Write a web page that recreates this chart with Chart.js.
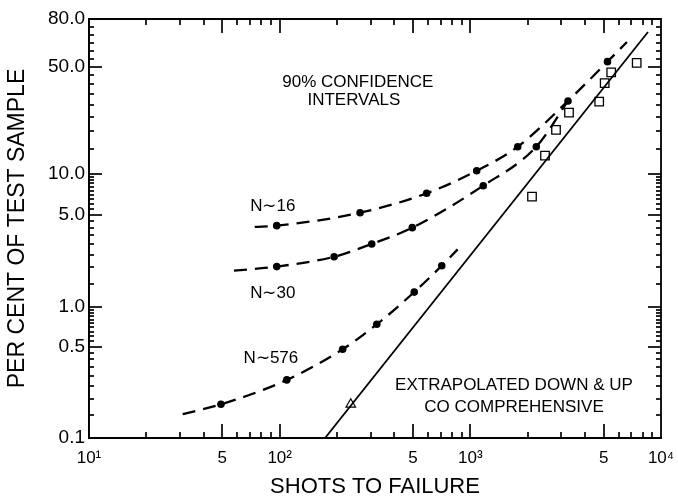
<!DOCTYPE html>
<html lang="en">
<head>
<meta charset="UTF-8">
<title>Shots to failure</title>
<script src="https://cdn.jsdelivr.net/npm/chart.js@4"></script>
<style>
  html, body { margin: 0; padding: 0; background: #fff; }
  #wrap { width: 678px; height: 498px; }
</style>
</head>
<body>
<div id="wrap"><canvas id="chart"></canvas></div>
<script>
// values: shots to failure (x) and per cent of sample failed (y)
const n16Shots = [74, 96.5, 264, 590, 1080, 1772, 3253, 5241, 6629];
const n16Pct = [4.04, 4.13, 5.16, 7.19, 10.5, 15.6, 31.6, 53.2, 65.8];
const n30Shots = [57.6, 96.5, 193, 304, 496, 1169, 2218, 3253];
const n30Pct = [1.89, 2.03, 2.41, 3.01, 3.99, 8.18, 15.6, 31.6];
const n576Shots = [31, 49.2, 109, 214, 323, 508, 708, 858];
const n576Pct = [0.152, 0.181, 0.278, 0.477, 0.739, 1.30, 2.06, 2.74];
const fitShots = [173, 8546];
const fitPct = [0.1, 72.2];
const testShots = [2106, 2464, 2814, 3292, 4741, 5066, 5480, 7456];
const testPct = [6.79, 13.5, 20.4, 26.6, 31.3, 40.5, 46.6, 52.4];
const extraShots = [236];
const extraPct = [0.181];

// axis range and ticks
const xMin = 10, xMax = 10000;
const yMin = 0.1, yMax = 80;
const xLabelTicks = [10, 50, 100, 500, 1000, 5000, 10000];
const xLabelText = ['10¹', '5', '10²', '5', '10³', '5', '10⁴'];
const xLongTicks = [100, 1000, 50, 500, 5000];
const xShortTicks = [20, 30, 40, 60, 70, 80, 90, 200, 300, 400, 600, 700, 800, 900,
    2000, 3000, 4000, 6000, 7000, 8000, 9000];
const yLabelTicks = [0.1, 0.5, 1, 5, 10, 50, 80];
const yLabelText = ['0.1', '0.5', '1.0', '5.0', '10.0', '50.0', '80.0'];
const yLongTicks = [0.5, 1, 5, 10, 50];
const yShortTicks = [0.15, 0.2, 0.25, 0.3, 0.35, 0.4, 0.45,
    0.55, 0.6, 0.65, 0.7, 0.75, 0.8, 0.85, 0.9, 0.95,
    1.5, 2, 2.5, 3, 3.5, 4, 4.5,
    5.5, 6, 6.5, 7, 7.5, 8, 8.5, 9, 9.5,
    15, 20, 25, 30, 35, 40, 45, 55, 60, 65, 70, 75];

const notes = [
    { text: '90% CONFIDENCE', x: 257, y: 41 },
    { text: 'INTERVALS', x: 245, y: 32 },
    { text: 'N∼16', x: 92, y: 5.8 },
    { text: 'N∼30', x: 92, y: 1.28 },
    { text: 'N∼576', x: 90, y: 0.406 },
    { text: 'EXTRAPOLATED DOWN & UP', x: 1694, y: 0.254 },
    { text: 'CO COMPREHENSIVE', x: 1694, y: 0.173 },
];

const FONT = '"Liberation Sans", Arial, Helvetica, sans-serif';
Chart.defaults.font.family = FONT;
Chart.defaults.color = '#000';

// Weibull probability paper: ln(-ln(1 - p))
const weib = p => Math.log(-Math.log(1 - p / 100));

class WeibullScale extends Chart.Scale {
    static id = 'weibull';
    static defaults = {};

    determineDataLimits() {
        this.min = this.options.min;
        this.max = this.options.max;
    }
    buildTicks() {
        return yLabelTicks.map(v => ({ value: v }));
    }
    configure() {
        super.configure();
        this._startValue = weib(this.min);
        this._valueRange = weib(this.max) - weib(this.min);
    }
    getPixelForValue(value) {
        return this.getPixelForDecimal((weib(value) - this._startValue) / this._valueRange);
    }
    getValueForPixel(pixel) {
        const f = this._startValue + this.getDecimalForPixel(pixel) * this._valueRange;
        return 100 * (1 - Math.exp(-Math.exp(f)));
    }
    getLabelForValue(value) {
        return String(value);
    }
}
Chart.register(WeibullScale);

const zip = (xs, ys) => xs.map((x, i) => ({ x, y: ys[i] }));
const noEnds = n => ctx => (ctx.dataIndex === 0 || ctx.dataIndex === n - 1) ? 0 : 3.8;

function dashed(xs, ys) {
    return {
        data: zip(xs, ys),
        showLine: true,
        borderColor: '#000',
        borderWidth: 2.3,
        borderDash: [13, 8],
        cubicInterpolationMode: 'monotone',
        pointRadius: noEnds(xs.length),
        pointBackgroundColor: '#000',
        pointBorderWidth: 0,
    };
}

// inward ticks on all four sides
function drawTicks(chart) {
    const ctx = chart.ctx;
    const x = chart.scales.x;
    const y = chart.scales.y;
    const L = Math.round(x.left), R = Math.round(x.right);
    const T = Math.round(y.top), B = Math.round(y.bottom);
    ctx.save();
    ctx.fillStyle = '#000';
    const xt = (v, len) => {
        const p = Math.round(x.getPixelForValue(v));
        ctx.fillRect(p - 0.6, B - len, 1.2, len);
        ctx.fillRect(p - 0.6, T, 1.2, len);
    };
    const yt = (v, len) => {
        const p = Math.round(y.getPixelForValue(v));
        ctx.fillRect(L, p - 0.6, len, 1.2);
        ctx.fillRect(R - len, p - 0.6, len, 1.2);
    };
    xLongTicks.forEach(v => xt(v, 14));
    xShortTicks.forEach(v => xt(v, 6));
    yLongTicks.forEach(v => yt(v, 13));
    yShortTicks.forEach(v => yt(v, 5));
    ctx.restore();
}

const decor = {
    id: 'decor',
    beforeDatasetsDraw(chart) {
        drawTicks(chart);
    },
    afterDraw(chart) {
        drawTicks(chart);
        const ctx = chart.ctx;
        const x = chart.scales.x;
        const y = chart.scales.y;
        ctx.save();
        ctx.fillStyle = '#000';
        ctx.font = '17px ' + FONT;
        ctx.textAlign = 'center';
        ctx.textBaseline = 'middle';
        notes.forEach(n => ctx.fillText(n.text, x.getPixelForValue(n.x), y.getPixelForValue(n.y)));
        ctx.restore();
    }
};

new Chart(document.getElementById('chart'), {
    type: 'scatter',
    data: {
        datasets: [
            // plot box along the axis limits
            {
                data: zip([xMin, xMax, xMax, xMin, xMin], [yMin, yMin, yMax, yMax, yMin]),
                showLine: true,
                borderColor: '#000',
                borderWidth: 1.8,
                pointRadius: 0,
                clip: false,
            },
            dashed(n16Shots, n16Pct),
            dashed(n30Shots, n30Pct),
            dashed(n576Shots, n576Pct),
            {
                data: zip(fitShots, fitPct),
                showLine: true,
                borderColor: '#000',
                borderWidth: 1.8,
                pointRadius: 0,
            },
            {
                data: zip(testShots, testPct),
                pointStyle: 'rect',
                pointRadius: 6,
                pointBorderWidth: 1.3,
                pointBorderColor: '#000',
                pointBackgroundColor: '#fff',
            },
            {
                data: zip(extraShots, extraPct),
                pointStyle: 'triangle',
                pointRadius: 5.5,
                pointBorderWidth: 1.2,
                pointBorderColor: '#000',
                pointBackgroundColor: '#fff',
            },
        ]
    },
    options: {
        responsive: true,
        maintainAspectRatio: false,
        animation: false,
        events: [],
        layout: { padding: { top: 19, right: 17, left: 0, bottom: 0 } },
        plugins: { legend: { display: false }, tooltip: { enabled: false } },
        scales: {
            x: {
                type: 'logarithmic',
                min: xMin,
                max: xMax,
                grid: { display: false, drawTicks: false, tickLength: 0 },
                border: { display: true, color: '#000', width: 1.6 },
                afterBuildTicks: s => { s.ticks = xLabelTicks.map(v => ({ value: v })); },
                afterFit: s => { s.height = 60; s.paddingLeft = 0; s.paddingRight = 0; },
                ticks: {
                    autoSkip: false,
                    maxRotation: 0,
                    padding: 10,
                    font: { size: 17 },
                    callback: (v, i) => xLabelText[i],
                },
                title: {
                    display: true,
                    text: 'SHOTS TO FAILURE',
                    font: { size: 22 },
                    padding: { top: 0, bottom: -2 },
                },
            },
            y: {
                type: 'weibull',
                min: yMin,
                max: yMax,
                grid: { display: false, drawTicks: false, tickLength: 0 },
                border: { display: true, color: '#000', width: 1.6 },
                afterFit: s => { s.width = 89; s.paddingTop = 0; s.paddingBottom = 0; },
                ticks: {
                    autoSkip: false,
                    padding: 4,
                    font: { size: 19 },
                    callback: (v, i) => yLabelText[i],
                },
                title: {
                    display: true,
                    text: 'PER CENT OF TEST SAMPLE',
                    font: { size: 23 },
                    padding: { top: 4, bottom: 0 },
                },
            },
        },
    },
    plugins: [decor],
});
</script>
</body>
</html>
